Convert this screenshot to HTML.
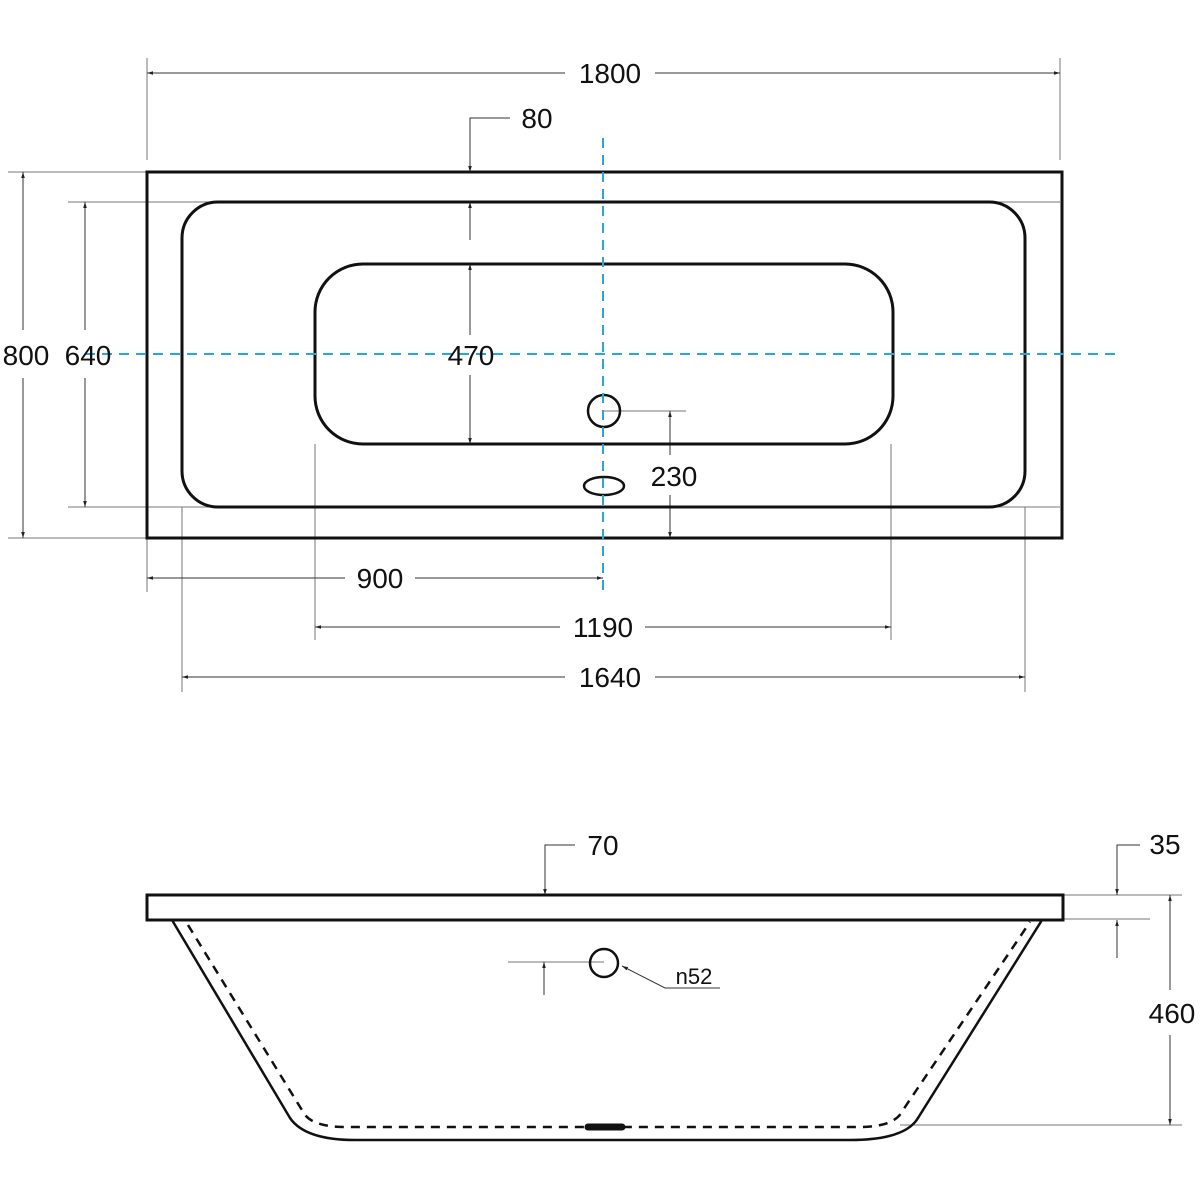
<!DOCTYPE html>
<html><head><style>html,body{margin:0;padding:0;background:#fff}svg{display:block}text{font-family:"Liberation Sans",Arial,sans-serif;font-size:28px;fill:#111}</style></head><body>
<svg width="1200" height="1200" viewBox="0 0 1200 1200" xmlns="http://www.w3.org/2000/svg">
<defs>
<marker id="a" viewBox="0 0 10 10" refX="10" refY="5" markerWidth="6" markerHeight="8" orient="auto-start-reverse"><path d="M0,2 L10,5 L0,8 z" fill="#222"/></marker>
</defs>
<g stroke="#777" stroke-width="1" fill="none">
<line x1="147" y1="58" x2="147" y2="160"/><line x1="1060" y1="58" x2="1060" y2="160"/>
<line x1="8" y1="172" x2="147" y2="172"/><line x1="8" y1="538" x2="147" y2="538"/>
<line x1="68" y1="202" x2="1060" y2="202"/><line x1="68" y1="507" x2="1060" y2="507"/>
<line x1="147" y1="538" x2="147" y2="592"/>
<line x1="315" y1="444" x2="315" y2="640"/><line x1="891" y1="444" x2="891" y2="640"/>
<line x1="182" y1="507" x2="182" y2="692"/><line x1="1025" y1="507" x2="1025" y2="692"/>
<line x1="604" y1="411" x2="686" y2="411"/>
<line x1="1063" y1="895" x2="1182" y2="895"/><line x1="1063" y1="919" x2="1150" y2="919"/>
<line x1="900" y1="1125" x2="1182" y2="1125"/>
<line x1="508" y1="962" x2="604" y2="962"/>
</g>
<g stroke="#333" stroke-width="1" fill="none">
<line x1="147" y1="73" x2="565" y2="73" marker-start="url(#a)"/><line x1="655" y1="73" x2="1060" y2="73" marker-end="url(#a)"/>
<polyline points="510,118 470,118 470,172" marker-end="url(#a)"/>
<line x1="470" y1="240" x2="470" y2="202" marker-end="url(#a)"/>
<line x1="23" y1="172" x2="23" y2="330" marker-start="url(#a)"/><line x1="23" y1="378" x2="23" y2="538" marker-end="url(#a)"/>
<line x1="85" y1="202" x2="85" y2="330" marker-start="url(#a)"/><line x1="85" y1="378" x2="85" y2="507" marker-end="url(#a)"/>
<line x1="470" y1="264" x2="470" y2="335" marker-start="url(#a)"/><line x1="470" y1="375" x2="470" y2="444" marker-end="url(#a)"/>
<line x1="670" y1="411" x2="670" y2="455" marker-start="url(#a)"/><line x1="670" y1="495" x2="670" y2="538" marker-end="url(#a)"/>
<line x1="147" y1="578" x2="345" y2="578" marker-start="url(#a)"/><line x1="415" y1="578" x2="603" y2="578" marker-end="url(#a)"/>
<line x1="315" y1="627" x2="560" y2="627" marker-start="url(#a)"/><line x1="645" y1="627" x2="891" y2="627" marker-end="url(#a)"/>
<line x1="182" y1="677" x2="565" y2="677" marker-start="url(#a)"/><line x1="655" y1="677" x2="1025" y2="677" marker-end="url(#a)"/>
<polyline points="575,845 545,845 545,895" marker-end="url(#a)"/>
<polyline points="1140,845 1117,845 1117,895" marker-end="url(#a)"/>
<line x1="1117" y1="958" x2="1117" y2="920" marker-end="url(#a)"/>
<line x1="1170" y1="895" x2="1170" y2="990" marker-start="url(#a)"/><line x1="1170" y1="1035" x2="1170" y2="1125" marker-end="url(#a)"/>
<line x1="544" y1="995" x2="544" y2="962" marker-end="url(#a)"/>
<polyline points="720,988 665,988 622,966" marker-end="url(#a)"/>
</g>
<g stroke="#111" fill="none">
<rect x="147" y="172" width="915" height="366" stroke-width="3"/>
<rect x="182" y="202" width="843" height="305" rx="36" stroke-width="3"/>
<rect x="315" y="264" width="578" height="180" rx="48" stroke-width="3"/>
<circle cx="604" cy="411" r="16" stroke-width="2.5"/>
<ellipse cx="604" cy="486" rx="20" ry="9" stroke-width="2.5"/>
</g>
<g stroke="#2aa6d8" stroke-width="2" stroke-dasharray="10,7">
<line x1="603" y1="138" x2="603" y2="592"/>
<line x1="85" y1="354" x2="1118" y2="354"/>
</g>
<g stroke="#111" fill="none">
<rect x="147" y="895" width="916" height="25" stroke-width="3"/>
<path d="M172,920 L290,1118 Q305,1140 355,1140 L850,1140 Q905,1140 918,1118 L1042,920" stroke-width="2.5"/>
<path d="M188,925 L305,1115 Q315,1127 345,1127 L860,1127 Q895,1127 903,1110 L1030,922" stroke-width="2.5" stroke-dasharray="9,7"/>
<line x1="588" y1="1127" x2="622" y2="1127" stroke-width="7" stroke-linecap="round"/>
<circle cx="604" cy="963" r="14" stroke-width="2.5"/>
</g>
<g text-anchor="middle">
<text x="610" y="83">1800</text>
<text x="537" y="128">80</text>
<text x="26" y="365">800</text>
<text x="88" y="365">640</text>
<text x="471" y="365">470</text>
<text x="674" y="486">230</text>
<text x="380" y="588">900</text>
<text x="603" y="637">1190</text>
<text x="610" y="687">1640</text>
<text x="603" y="855">70</text>
<text x="1165" y="854">35</text>
<text x="1172" y="1023">460</text>
<text x="694" y="984" style="font-size:22px">n52</text>
</g>
</svg>
</body></html>
